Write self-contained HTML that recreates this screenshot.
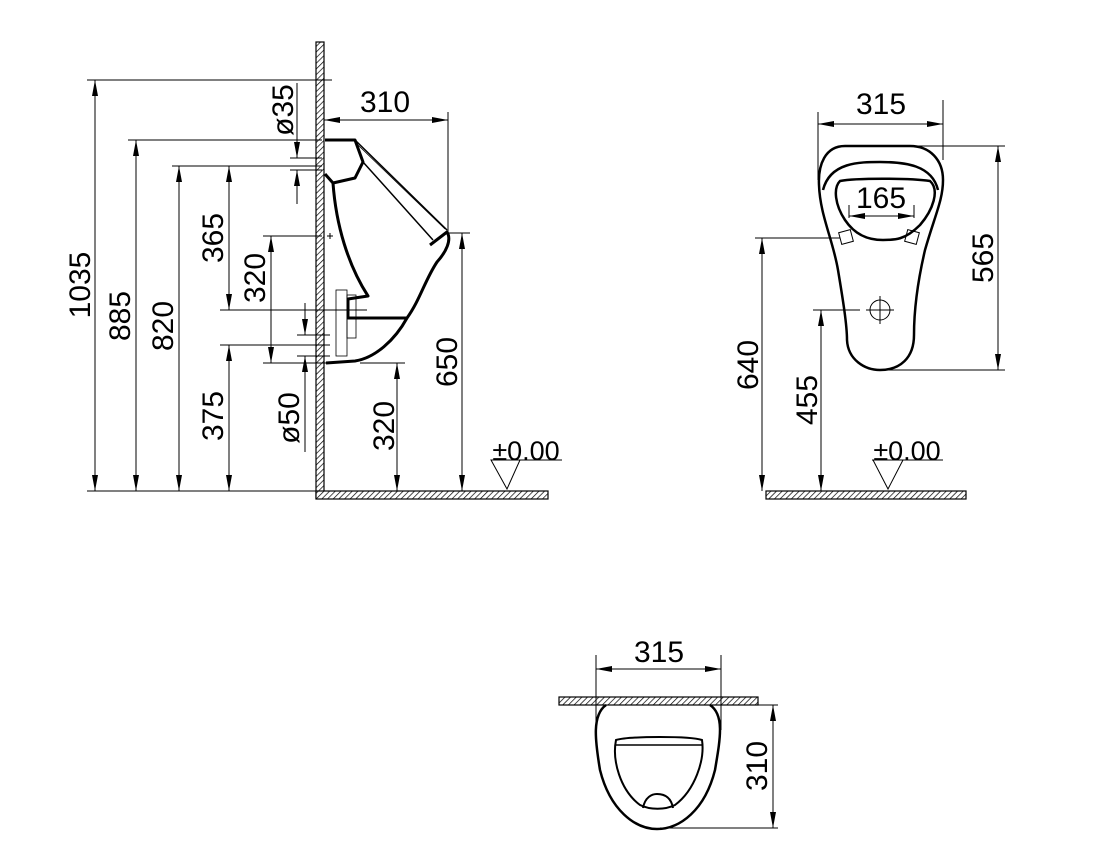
<!DOCTYPE html>
<html><head><meta charset="utf-8"><style>
html,body{margin:0;padding:0;background:#fff;}
svg{display:block;}
text{font-family:"Liberation Sans",sans-serif;font-size:30px;fill:#000;}
</style></head><body>
<svg width="1107" height="857" viewBox="0 0 1107 857" xmlns="http://www.w3.org/2000/svg">
<defs>
<pattern id="h" width="4" height="4" patternUnits="userSpaceOnUse" patternTransform="rotate(45)">
<rect width="4" height="4" fill="#fff"/><line x1="0" y1="0" x2="0" y2="4" stroke="#000" stroke-width="1.4"/></pattern>
<marker id="a" viewBox="0 0 16 6" refX="16" refY="3" markerWidth="16" markerHeight="6" markerUnits="userSpaceOnUse" orient="auto-start-reverse">
<path d="M0,0 L16,3 L0,6 Z" fill="#000"/></marker>
</defs>
<g stroke="#000" stroke-width="1" fill="none">
<rect x="316" y="42" width="8" height="456" fill="url(#h)" stroke-width="1.2"/>
<rect x="316" y="491" width="232" height="8" fill="url(#h)" stroke-width="1.2"/>
<line x1="87" y1="80" x2="332" y2="80"/>
<line x1="128" y1="140" x2="322" y2="140"/>
<line x1="172" y1="166" x2="322" y2="166"/>
<line x1="220" y1="310" x2="367" y2="310"/>
<line x1="263" y1="236" x2="322" y2="236"/>
<line x1="263" y1="363" x2="326" y2="363"/>
<line x1="220" y1="345" x2="330" y2="345"/>
<line x1="87" y1="491" x2="316" y2="491"/>
<line x1="290" y1="158" x2="322" y2="158"/>
<line x1="290" y1="170" x2="322" y2="170"/>
<line x1="297" y1="335" x2="330" y2="335"/>
<line x1="297" y1="356" x2="330" y2="356"/>
<line x1="448" y1="112" x2="448" y2="235"/>
<line x1="448" y1="233" x2="470" y2="233"/>
<line x1="360" y1="363" x2="405" y2="363"/>
<line x1="95" y1="80" x2="95" y2="491" marker-start="url(#a)" marker-end="url(#a)"/>
<line x1="136" y1="140" x2="136" y2="491" marker-start="url(#a)" marker-end="url(#a)"/>
<line x1="179" y1="166" x2="179" y2="491" marker-start="url(#a)" marker-end="url(#a)"/>
<line x1="229" y1="166" x2="229" y2="310" marker-start="url(#a)" marker-end="url(#a)"/>
<line x1="271" y1="236" x2="271" y2="363" marker-start="url(#a)" marker-end="url(#a)"/>
<line x1="229" y1="345" x2="229" y2="491" marker-start="url(#a)" marker-end="url(#a)"/>
<line x1="297" y1="83" x2="297" y2="158" marker-end="url(#a)"/>
<line x1="297" y1="204" x2="297" y2="170" marker-end="url(#a)"/>
<line x1="305" y1="303" x2="305" y2="335" marker-end="url(#a)"/>
<line x1="305" y1="452" x2="305" y2="356" marker-end="url(#a)"/>
<line x1="324" y1="120" x2="448" y2="120" marker-start="url(#a)" marker-end="url(#a)"/>
<line x1="462" y1="233" x2="462" y2="491" marker-start="url(#a)" marker-end="url(#a)"/>
<line x1="397" y1="363" x2="397" y2="491" marker-start="url(#a)" marker-end="url(#a)"/>
<line x1="491" y1="460" x2="562" y2="460"/>
<path d="M491,460 L520,460 L507,489 Z"/>
<g stroke-width="3" stroke-linejoin="round">
<path d="M325,140 L355,140 L363,162 L355,178 L333,183 L325,174"/>
<path d="M333,183 C336,225 348,265 368,296 L348,299 L348,318 L407,318"/>
<path d="M430,245 L447,232 C452,240 446,252 437,262 C425,280 420,300 407,318 C395,340 375,358 355,361 L326,363"/>
</g>
<line x1="355" y1="140" x2="447" y2="230" stroke-width="1.5"/>
<line x1="363" y1="162" x2="433" y2="240" stroke-width="1.5"/>
<line x1="358" y1="145" x2="445" y2="229" stroke-width="0.8"/>
<g stroke-width="0.8"><rect x="336" y="290" width="11" height="66"/><rect x="347" y="295" width="9" height="43"/></g>
<line x1="327" y1="236" x2="333" y2="236"/><line x1="330" y1="233" x2="330" y2="239"/>

<rect x="766" y="491" width="200" height="8" fill="url(#h)" stroke-width="1.2"/>
<line x1="818" y1="112" x2="818" y2="180"/>
<line x1="943" y1="100" x2="943" y2="160"/>
<line x1="818" y1="124" x2="943" y2="124" marker-start="url(#a)" marker-end="url(#a)"/>
<path stroke-width="2.5" d="M845,146 C825,146 818,165 819,185 C820,215 833,240 838,270 C843,300 847,325 847,340 C848,360 865,370 880,370 C900,370 914,358 914,335 C914,310 918,280 925,250 C935,215 943,200 943,180 C943,160 930,146 910,146 Z"/>
<path stroke-width="2.5" d="M823,190 C830,162 860,162 880,162 C905,162 932,165 938,190"/>
<path stroke-width="2.5" d="M840,181 C855,178 910,178 930,181 C940,190 933,210 920,225 C905,240 895,240 883,240 C868,240 855,235 845,220 C835,205 833,188 840,181 Z"/>
<line x1="849" y1="205" x2="849" y2="218"/><line x1="914" y1="205" x2="914" y2="218"/>
<line x1="849" y1="216" x2="914" y2="216" marker-start="url(#a)" marker-end="url(#a)"/>
<rect x="840" y="231" width="12" height="12" transform="rotate(-15 846 237)"/>
<rect x="906" y="231" width="12" height="12" transform="rotate(15 912 237)"/>
<line x1="755" y1="238" x2="840" y2="238"/>
<line x1="762" y1="238" x2="762" y2="491" marker-start="url(#a)" marker-end="url(#a)"/>
<line x1="813" y1="310" x2="860" y2="310"/>
<line x1="821" y1="310" x2="821" y2="491" marker-start="url(#a)" marker-end="url(#a)"/>
<circle cx="880" cy="310" r="10"/><line x1="866" y1="310" x2="894" y2="310"/><line x1="880" y1="296" x2="880" y2="324"/>
<line x1="880" y1="146" x2="1005" y2="146"/><line x1="880" y1="370" x2="1005" y2="370"/>
<line x1="998" y1="146" x2="998" y2="370" marker-start="url(#a)" marker-end="url(#a)"/>
<line x1="872" y1="460" x2="943" y2="460"/>
<path d="M873,460 L903,460 L888,489 Z"/>

<rect x="559" y="697" width="199" height="8" fill="url(#h)" stroke-width="1.2"/>
<line x1="596" y1="655" x2="596" y2="730"/><line x1="721" y1="655" x2="721" y2="730"/>
<line x1="596" y1="669" x2="721" y2="669" marker-start="url(#a)" marker-end="url(#a)"/>
<path stroke-width="2.5" d="M606,705 C592,715 595,740 600,770 C610,810 635,829 657,829 C680,829 705,810 715,770 C720,740 725,715 710,705"/>
<path stroke-width="2" d="M616,740 C612,760 620,790 640,805 C650,810 665,810 675,805 C695,790 705,760 702,740 C690,736 630,736 616,740 Z"/>
<line x1="616" y1="745" x2="702" y2="745" stroke-width="1.5"/>
<path stroke-width="2" d="M643,808 C645,797 652,794 657,794 C664,794 671,797 673,808"/>
<line x1="718" y1="705" x2="778" y2="705"/><line x1="660" y1="828" x2="778" y2="828"/>
<line x1="773" y1="705" x2="773" y2="828" marker-start="url(#a)" marker-end="url(#a)"/>
</g>
<g>
<text transform="translate(90,285) rotate(-90)" text-anchor="middle">1035</text>
<text transform="translate(130,316) rotate(-90)" text-anchor="middle">885</text>
<text transform="translate(173,326) rotate(-90)" text-anchor="middle">820</text>
<text transform="translate(223,238) rotate(-90)" text-anchor="middle">365</text>
<text transform="translate(265,278) rotate(-90)" text-anchor="middle">320</text>
<text transform="translate(223,416) rotate(-90)" text-anchor="middle">375</text>
<text transform="translate(299,418) rotate(-90)" text-anchor="middle">ø50</text>
<text transform="translate(293,110) rotate(-90)" text-anchor="middle">ø35</text>
<text transform="translate(394,426) rotate(-90)" text-anchor="middle">320</text>
<text transform="translate(457,362) rotate(-90)" text-anchor="middle">650</text>
<text x="385" y="112" text-anchor="middle">310</text>
<text x="526" y="460" text-anchor="middle" style="font-size:27px">±0.00</text>
<text x="881" y="114" text-anchor="middle">315</text>
<text x="881" y="208" text-anchor="middle">165</text>
<text transform="translate(758,365) rotate(-90)" text-anchor="middle">640</text>
<text transform="translate(817,400) rotate(-90)" text-anchor="middle">455</text>
<text transform="translate(993,258) rotate(-90)" text-anchor="middle">565</text>
<text x="907" y="460" text-anchor="middle" style="font-size:27px">±0.00</text>
<text x="659" y="662" text-anchor="middle">315</text>
<text transform="translate(767,766) rotate(-90)" text-anchor="middle">310</text>
</g>
</svg>
</body></html>
